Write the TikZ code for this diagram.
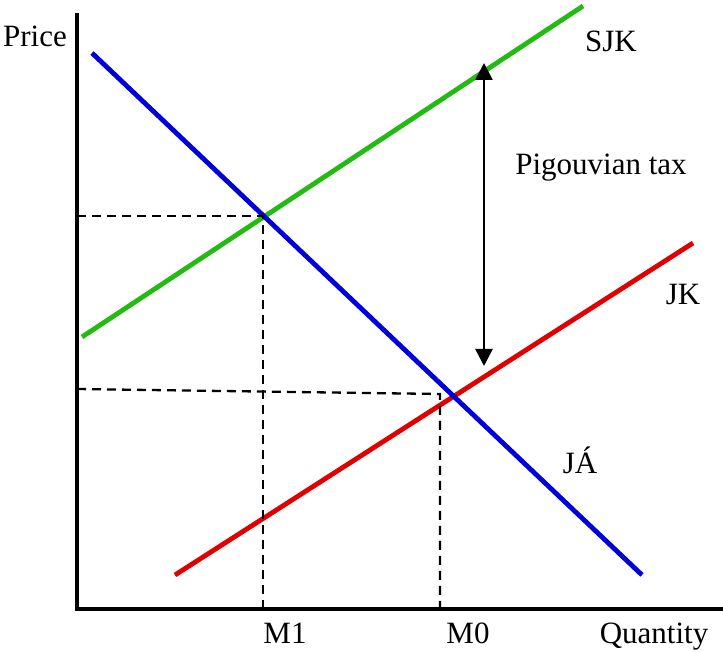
\documentclass[tikz,border=0pt]{standalone}
\usepackage{fontspec}
\setmainfont{Liberation Serif}
\usepackage{xcolor}
\usetikzlibrary{arrows.meta}
\definecolor{demandcol}{RGB}{0,0,220}
\definecolor{socialcol}{RGB}{34,187,17}
\definecolor{privcol}{RGB}{225,0,0}
\tikzset{
    axisline/.style  = {line width=3.4pt, black},
    curve/.style     = {line width=4.8pt},
    guide/.style     = {dashed, line width=2.3pt, dash pattern=on 9pt off 6pt},
    taxarrow/.style  = {{Triangle[length=17pt, width=17pt]}-{Triangle[length=17pt, width=17pt]}, line width=2.6pt},
    lbl/.style       = {font=\fontsize{31}{36}\selectfont, anchor=base, inner sep=0pt},
}

\begin{document}
\begin{tikzpicture}[x=1pt, y=-1pt]
\useasboundingbox (0,0) rectangle (723,652);

% axes
\coordinate (origin) at (77,609);
\coordinate (ytop) at (77,13);
\coordinate (xend) at (723,609);
\draw[axisline] (ytop) -- (origin) -- (xend);

% curves
\coordinate (ja-a) at (92,53);
\coordinate (ja-b) at (642,575);
\coordinate (sjk-a) at (82,337);
\coordinate (sjk-b) at (583,6);
\coordinate (jk-a) at (175,575);
\coordinate (jk-b) at (693,243);
\draw[curve, socialcol] (sjk-a) -- (sjk-b);
\draw[curve, privcol] (jk-a) -- (jk-b);
\draw[curve, demandcol] (ja-a) -- (ja-b);

% optimum and market levels
\coordinate (p1) at (77,216);
\coordinate (e1) at (263,216);
\coordinate (m1) at (263,609);
\draw[guide] (p1) -- (e1) -- (m1);
\coordinate (p0) at (77,389);
\coordinate (e0) at (440,394);
\coordinate (m0) at (440,609);
\draw[guide] (p0) -- (e0) -- (m0);

% tax wedge
\coordinate (tax-top) at (484,63);
\coordinate (tax-bot) at (484,366);
\draw[taxarrow] (tax-bot) -- (tax-top);

\node[lbl] (price) at (35,47) {Price};
\node[lbl] (sjk) at (611,52) {SJK};
\node[lbl] (tax) at (601,175) {Pigouvian tax};
\node[lbl] (jk) at (683,305) {JK};
\node[lbl] (ja) at (580,473) {JÁ};
\node[lbl] (lm1) at (285,643) {M1};
\node[lbl] (lm0) at (468,643) {M0};
\node[lbl] (qty) at (654,643) {Quantity};

\end{tikzpicture}
\end{document}
